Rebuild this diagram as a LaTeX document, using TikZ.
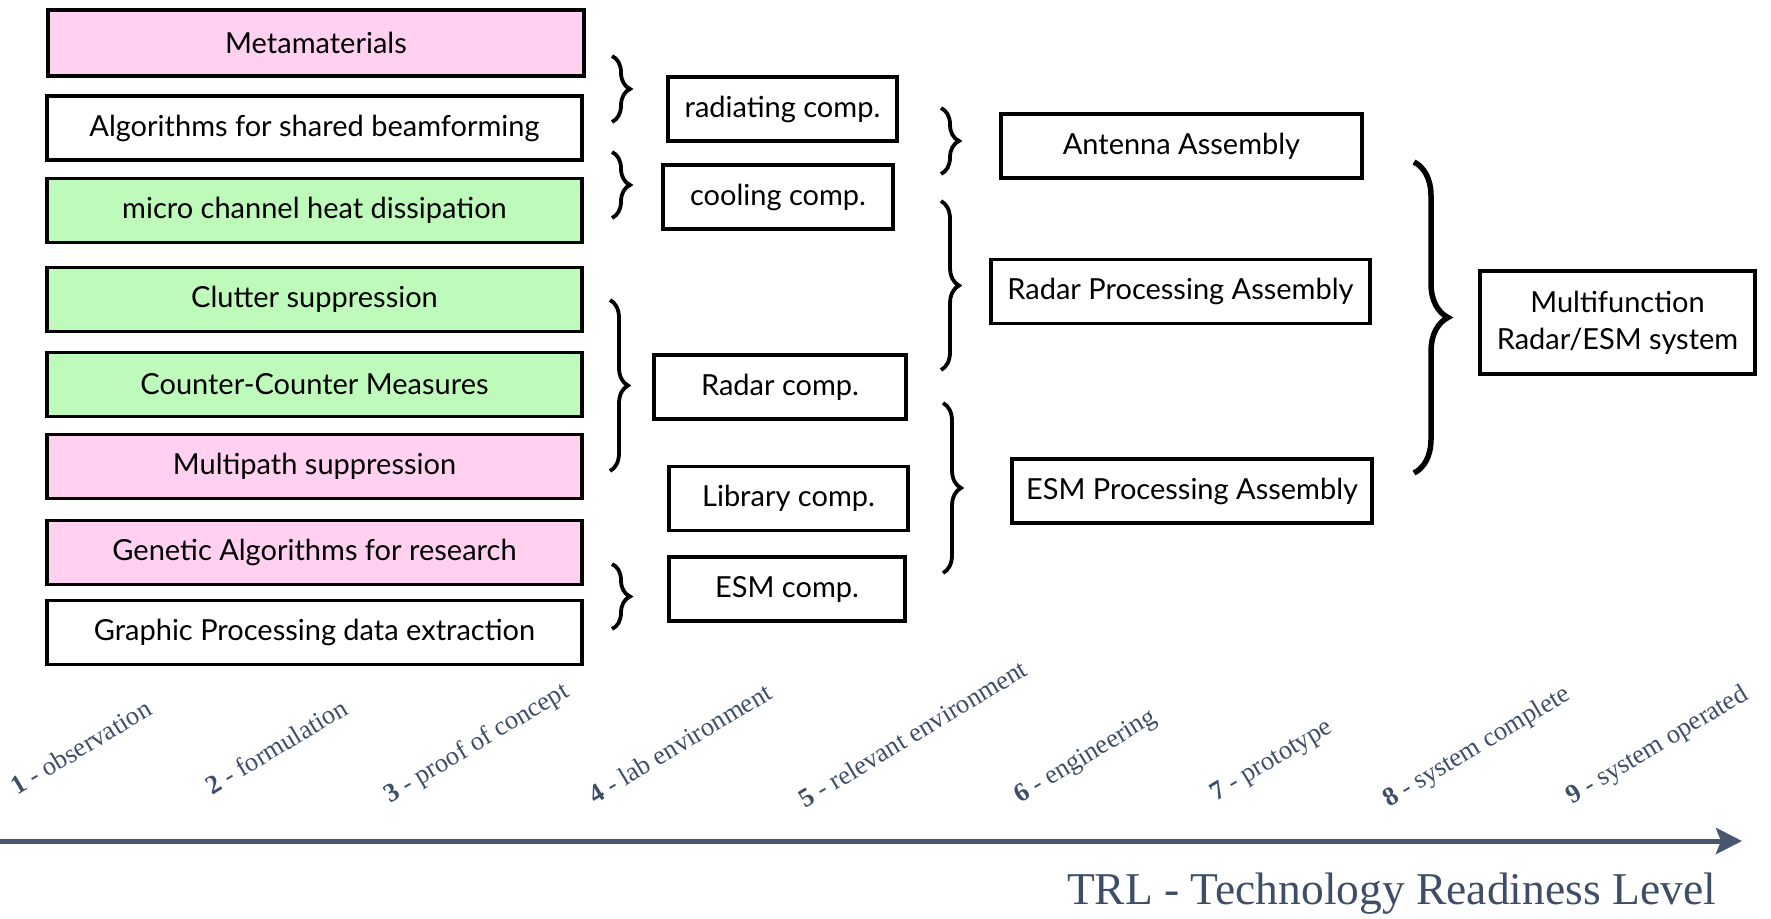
\documentclass[tikz,border=0pt]{standalone}
\usepackage{fontspec}
\setmainfont{Lato}
\newfontfamily\serifc{Liberation Serif}
\usetikzlibrary{decorations.pathreplacing,arrows.meta}
\definecolor{pinkc}{RGB}{255,208,240}
\definecolor{greenc}{RGB}{190,250,186}
\definecolor{slate}{RGB}{62,78,104}
\definecolor{arrowc}{RGB}{72,86,110}
\tikzset{
  box/.style={draw, line width=3.8pt, fill=white, inner sep=0pt, align=center,
    font=\fontsize{29}{37}\selectfont, minimum height=64pt},
  pinkbox/.style={box, fill=pinkc},
  greenbox/.style={box, fill=greenc},
  bracestyle/.style={decorate, decoration={brace, amplitude=18pt}, line width=3.8pt},
  bigbrace/.style={decorate, decoration={brace, amplitude=34pt}, line width=5.5pt},
  trl/.style={anchor=base west, rotate=31, text=slate, inner sep=0pt,
    font=\serifc\fontsize{26.5}{28}\selectfont},
}
\begin{document}
\begin{tikzpicture}[x=1pt,y=-1pt]
\useasboundingbox (0,0) rectangle (1771,918);
% left column
\node[pinkbox, minimum width=536pt, minimum height=66pt] (meta) at (316,43) {Metamaterials};
\node[box, minimum width=535pt] (algo) at (314.5,128) {Algorithms for shared beamforming};
\node[greenbox, minimum width=535pt] (micro) at (314.5,210.5) {micro channel heat dissipation};
\node[greenbox, minimum width=535pt] (clutter) at (314.5,299.5) {Clutter suppression};
\node[greenbox, minimum width=535pt] (ccm) at (314.5,384.5) {Counter-Counter Measures};
\node[pinkbox, minimum width=535pt] (multipath) at (314.5,466.5) {Multipath suppression};
\node[pinkbox, minimum width=535pt] (genetic) at (314.5,552.5) {Genetic Algorithms for research};
\node[box, minimum width=535pt] (graphic) at (314.5,632.5) {Graphic Processing data extraction};
% middle column
\node[box, minimum width=229pt] (radiating) at (782.5,109) {radiating comp.};
\node[box, minimum width=230pt] (cooling) at (778,197) {cooling comp.};
\node[box, minimum width=252pt] (radarc) at (780,387) {Radar comp.};
\node[box, minimum width=239pt] (library) at (788.5,498.5) {Library comp.};
\node[box, minimum width=236pt] (esmc) at (787,589) {ESM comp.};
% third column
\node[box, minimum width=361pt] (antenna) at (1181.5,146) {Antenna Assembly};
\node[box, minimum width=379pt] (radarp) at (1180.5,291.5) {Radar Processing Assembly};
\node[box, minimum width=360pt] (esmp) at (1192,491) {ESM Processing Assembly};
% system
\node[box, minimum width=275pt, minimum height=103pt] (multi) at (1617.5,322.5) {Multifunction\\Radar/ESM system};
% braces
\draw[bracestyle] (612,56) -- (612,122);
\draw[bracestyle] (612,152) -- (612,218);
\draw[bracestyle] (610,300) -- (610,471);
\draw[bracestyle] (612,564) -- (612,629);
\draw[bracestyle] (941,108) -- (941,174);
\draw[bracestyle] (941,201) -- (941,370);
\draw[bracestyle] (943,403) -- (943,573);
\draw[bigbrace] (1414,162) -- (1414,473);
% TRL axis
\coordinate (a0) at (0,841);
\coordinate (a1) at (1742,841);
\draw[arrowc, line width=5pt, -{Stealth[length=26pt, width=26pt, inset=5pt]}] (a0) -- (a1);
\node[anchor=base east, text=slate, inner sep=0pt, font=\serifc\fontsize{45.5}{48}\selectfont] (title) at (1716,904) {TRL - Technology Readiness Level};
\node[trl] (t1) at (17,796) {\textbf{1} - observation};
\node[trl] (t2) at (212,796) {\textbf{2} - formulation};
\node[trl] (t3) at (390,804) {\textbf{3} - proof of concept};
\node[trl] (t4) at (595,805) {\textbf{4} - lab environment};
\node[trl] (t5) at (805,809) {\textbf{5} - relevant environment};
\node[trl] (t6) at (1020,804) {\textbf{6} - engineering};
\node[trl] (t7) at (1216,802) {\textbf{7} - prototype};
\node[trl] (t8) at (1389,808) {\textbf{8} - system complete};
\node[trl] (t9) at (1572,805) {\textbf{9} - system operated};
\end{tikzpicture}
\end{document}
